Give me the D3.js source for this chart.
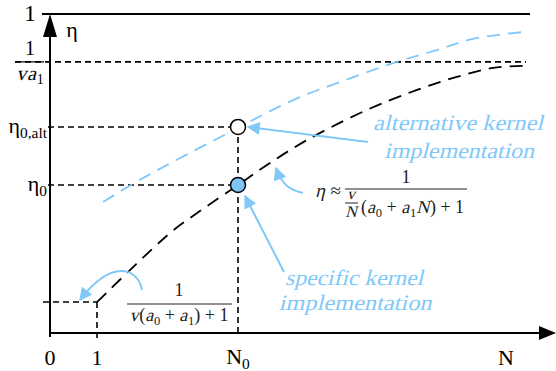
<!DOCTYPE html>
<html><head><meta charset="utf-8">
<script src="https://cdn.jsdelivr.net/npm/d3@7"></script>
<style>
html,body{margin:0;padding:0;background:#fff;}
</style></head>
<body><svg id="c" width="556" height="371"></svg>
<script>
// ---- data ----
const blackCurveN   = [1, 2.55, 3.13, 4, 4.68, 5.47, 6.74, 7.81, 8.66, 9.43, 10.15];
const blackCurveEta = [0.097, 0.313, 0.376, 0.464, 0.533, 0.605, 0.699, 0.762, 0.803, 0.831, 0.838];
const blueCurveN    = [1.13, 1.91, 3.83, 5.17, 6.17, 7.38, 8.23, 9.0, 10.1];
const blueCurveEta  = [0.411, 0.480, 0.630, 0.730, 0.787, 0.850, 0.887, 0.922, 0.944];
const N0 = 4;
const etaTop = 1, etaAsym = 0.85, eta0alt = 0.646, eta0 = 0.464, etaLow = 0.097;
const xTickLabels = ["0", "1", "N0", "N"];
const xTickValues = [0, 1, 4, 9.7];

const FONT = "'Liberation Serif', 'DejaVu Serif', serif";
const SKEW = -14;
const blue = "#80c8f8";
const svg = d3.select("#c").attr("font-family", FONT);
const x = d3.scaleLinear().domain([0, 10]).range([50, 520]);
const y = d3.scaleLinear().domain([0, 1]).range([333, 14]);

svg.append("defs").html(`
 <marker id="ab" viewBox="0 0 10 10" refX="9" refY="5" markerWidth="15" markerHeight="13" markerUnits="userSpaceOnUse" orient="auto"><path d="M0,0 L10,5 L0,10 Z" fill="${blue}"/></marker>
`);

// ---- reference dashed lines ----
function hdash(v, x0, x1){ svg.append("line").attr("x1",x0).attr("x2",x1).attr("y1",y(v)).attr("y2",y(v))
  .attr("stroke","#000").attr("stroke-width",1.6).attr("stroke-dasharray","6,4"); }
hdash(etaAsym, 15, 526);
hdash(eta0alt, 48, x(N0));
hdash(eta0, 48, x(N0));
hdash(etaLow, 43, x(1));
function vdash(n, v, yb){ svg.append("line").attr("x1",x(n)).attr("x2",x(n)).attr("y1",y(v)).attr("y2",yb)
  .attr("stroke","#000").attr("stroke-width",1.6).attr("stroke-dasharray","6,4"); }
vdash(1, etaLow, 342);
vdash(N0, eta0alt, 336);

// top solid line eta = 1
svg.append("line").attr("x1",42).attr("x2",530).attr("y1",y(etaTop)).attr("y2",y(etaTop))
  .attr("stroke","#000").attr("stroke-width",1.8);

// ---- axes ----
svg.append("line").attr("x1",x(0)).attr("x2",x(0)).attr("y1",337).attr("y2",y(etaTop)+20).attr("stroke","#000").attr("stroke-width",2);
svg.append("path").attr("d",`M${x(0)},${y(etaTop)} L${x(0)-7},${y(etaTop)+23} L${x(0)+7},${y(etaTop)+23} Z`).attr("fill","#000");
svg.append("line").attr("x1",x(0)-1).attr("x2",542).attr("y1",y(0)).attr("y2",y(0)).attr("stroke","#000").attr("stroke-width",2);
svg.append("path").attr("d",`M556,${y(0)} L539,${y(0)-7} L539,${y(0)+7} Z`).attr("fill","#000");

// ---- curves ----
const line = d3.line().x(d=>x(d[0])).y(d=>y(d[1])).curve(d3.curveCatmullRom.alpha(0.5));
svg.append("path").attr("d", line(blueCurveN.map((n,i)=>[n, blueCurveEta[i]])))
  .attr("fill","none").attr("stroke",blue).attr("stroke-width",1.8).attr("stroke-dasharray","13,8");
svg.append("path").attr("d", line(blackCurveN.map((n,i)=>[n, blackCurveEta[i]])))
  .attr("fill","none").attr("stroke","#000").attr("stroke-width",1.8).attr("stroke-dasharray","13,8");

// ---- points ----
svg.append("circle").attr("cx",x(N0)).attr("cy",y(eta0alt)).attr("r",7.5).attr("fill","#fff").attr("stroke","#000").attr("stroke-width",1.5);
svg.append("circle").attr("cx",x(N0)).attr("cy",y(eta0)).attr("r",7.5).attr("fill","#7ec4f4").attr("stroke","#000").attr("stroke-width",1.5);

// ---- annotation arrows ----
function arrow(d){ svg.append("path").attr("d",d).attr("fill","none").attr("stroke",blue).attr("stroke-width",2).attr("marker-end","url(#ab)"); }
arrow("M368,142 L248,127");
arrow("M303,193 C290,190 282,185 276,168");
arrow("M284,272 L245,196");
arrow("M142,290 C138,268 112,258 80,300");

// ---- text helpers ----
function txt(s, xx, yy, opt={}){
  const t = svg.append("text").attr("font-size",opt.size||20)
    .attr("font-family",FONT)
    .attr("text-anchor",opt.anchor||"middle").attr("fill",opt.fill||"#000");
  if(opt.italic) t.attr("transform",`translate(${xx},${yy}) skewX(${SKEW})`);
  else t.attr("x",xx).attr("y",yy);
  if(opt.len) t.attr("textLength",opt.len).attr("lengthAdjust","spacingAndGlyphs");
  t.text(s); return t;
}
// sequence layout: pieces [{t, it, sub}]
function formula(x0, y0, size, pieces, anchor, fill){
  const g = svg.append("g");
  let cx = 0;
  const els = pieces.map(p=>{
    const fsz = p.sub ? size*0.7 : size;
    const e = g.append("text").attr("font-size",fsz).attr("font-family",FONT).attr("fill",fill||"#000")
      .attr("xml:space","preserve").style("white-space","pre").text(p.t);
    const w = e.node().getComputedTextLength();
    const dy = p.sub ? size*0.22 : 0;
    if(p.it) e.attr("transform",`translate(${cx},${dy}) skewX(${SKEW})`);
    else e.attr("x",cx).attr("y",dy);
    cx += w + (p.it ? size*0.04 : 0);
    return e;
  });
  let sx = x0;
  if(anchor==="middle") sx = x0 - cx/2; else if(anchor==="end") sx = x0 - cx;
  g.attr("transform",`translate(${sx},${y0})`);
  return g;
}

// x tick labels
xTickLabels.forEach((l,i)=>{
  if(l==="N0") formula(x(xTickValues[i]), 364, 22, [{t:"N"},{t:"0",sub:true}], "middle");
  else txt(l, x(xTickValues[i]), 365, {size:22});
});
// y labels
txt("1", 30, 21, {size:24});
txt("η", 72, 37, {size:22});
txt("1", 30, 55, {size:20});
svg.append("line").attr("x1",15).attr("x2",44).attr("y1",y(etaAsym)).attr("y2",y(etaAsym)).attr("stroke","#000").attr("stroke-width",1.2);
formula(30, 80, 20, [{t:"v",it:true},{t:"a",it:true},{t:"1",sub:true}], "middle");
formula(47, y(eta0alt)+6, 22, [{t:"η"},{t:"0,alt",sub:true}], "end");
formula(47, y(eta0)+6, 22, [{t:"η"},{t:"0",sub:true}], "end");

// annotation labels (italic, blue)
txt("alternative kernel", 458, 130, {size:22, italic:true, fill:blue, len:170});
txt("implementation", 459, 158, {size:22, italic:true, fill:blue, len:150});
txt("specific kernel", 354, 285, {size:22, italic:true, fill:blue, len:138});
txt("implementation", 355, 310, {size:22, italic:true, fill:blue, len:153});

// formula 1: eta ≈ 1 / (v/N (a0 + a1 N) + 1)
const mc = "#222";
formula(315, 197, 19, [{t:"η",it:true},{t:" ≈"}], "start", mc);
txt("1", 406, 183, {size:18, fill:mc});
svg.append("line").attr("x1",345).attr("x2",467).attr("y1",189).attr("y2",189).attr("stroke",mc).attr("stroke-width",1.1);
txt("v", 351, 199, {size:16, italic:true, fill:mc});
svg.append("line").attr("x1",345).attr("x2",358).attr("y1",203).attr("y2",203).attr("stroke",mc).attr("stroke-width",1);
txt("N", 351, 217, {size:16, italic:true, fill:mc});
formula(361, 213, 18, [{t:"("},{t:"a",it:true},{t:"0",sub:true},{t:" + "},{t:"a",it:true},{t:"1",sub:true},{t:"N",it:true},{t:") + 1"}], "start", mc);

// formula 2: 1 / (v(a0 + a1) + 1)
txt("1", 179, 296, {size:18, fill:mc});
svg.append("line").attr("x1",127).attr("x2",232).attr("y1",304).attr("y2",304).attr("stroke",mc).attr("stroke-width",1.1);
formula(179, 321, 18, [{t:"v",it:true},{t:"("},{t:"a",it:true},{t:"0",sub:true},{t:" + "},{t:"a",it:true},{t:"1",sub:true},{t:") + 1"}], "middle", mc);
</script></body></html>
